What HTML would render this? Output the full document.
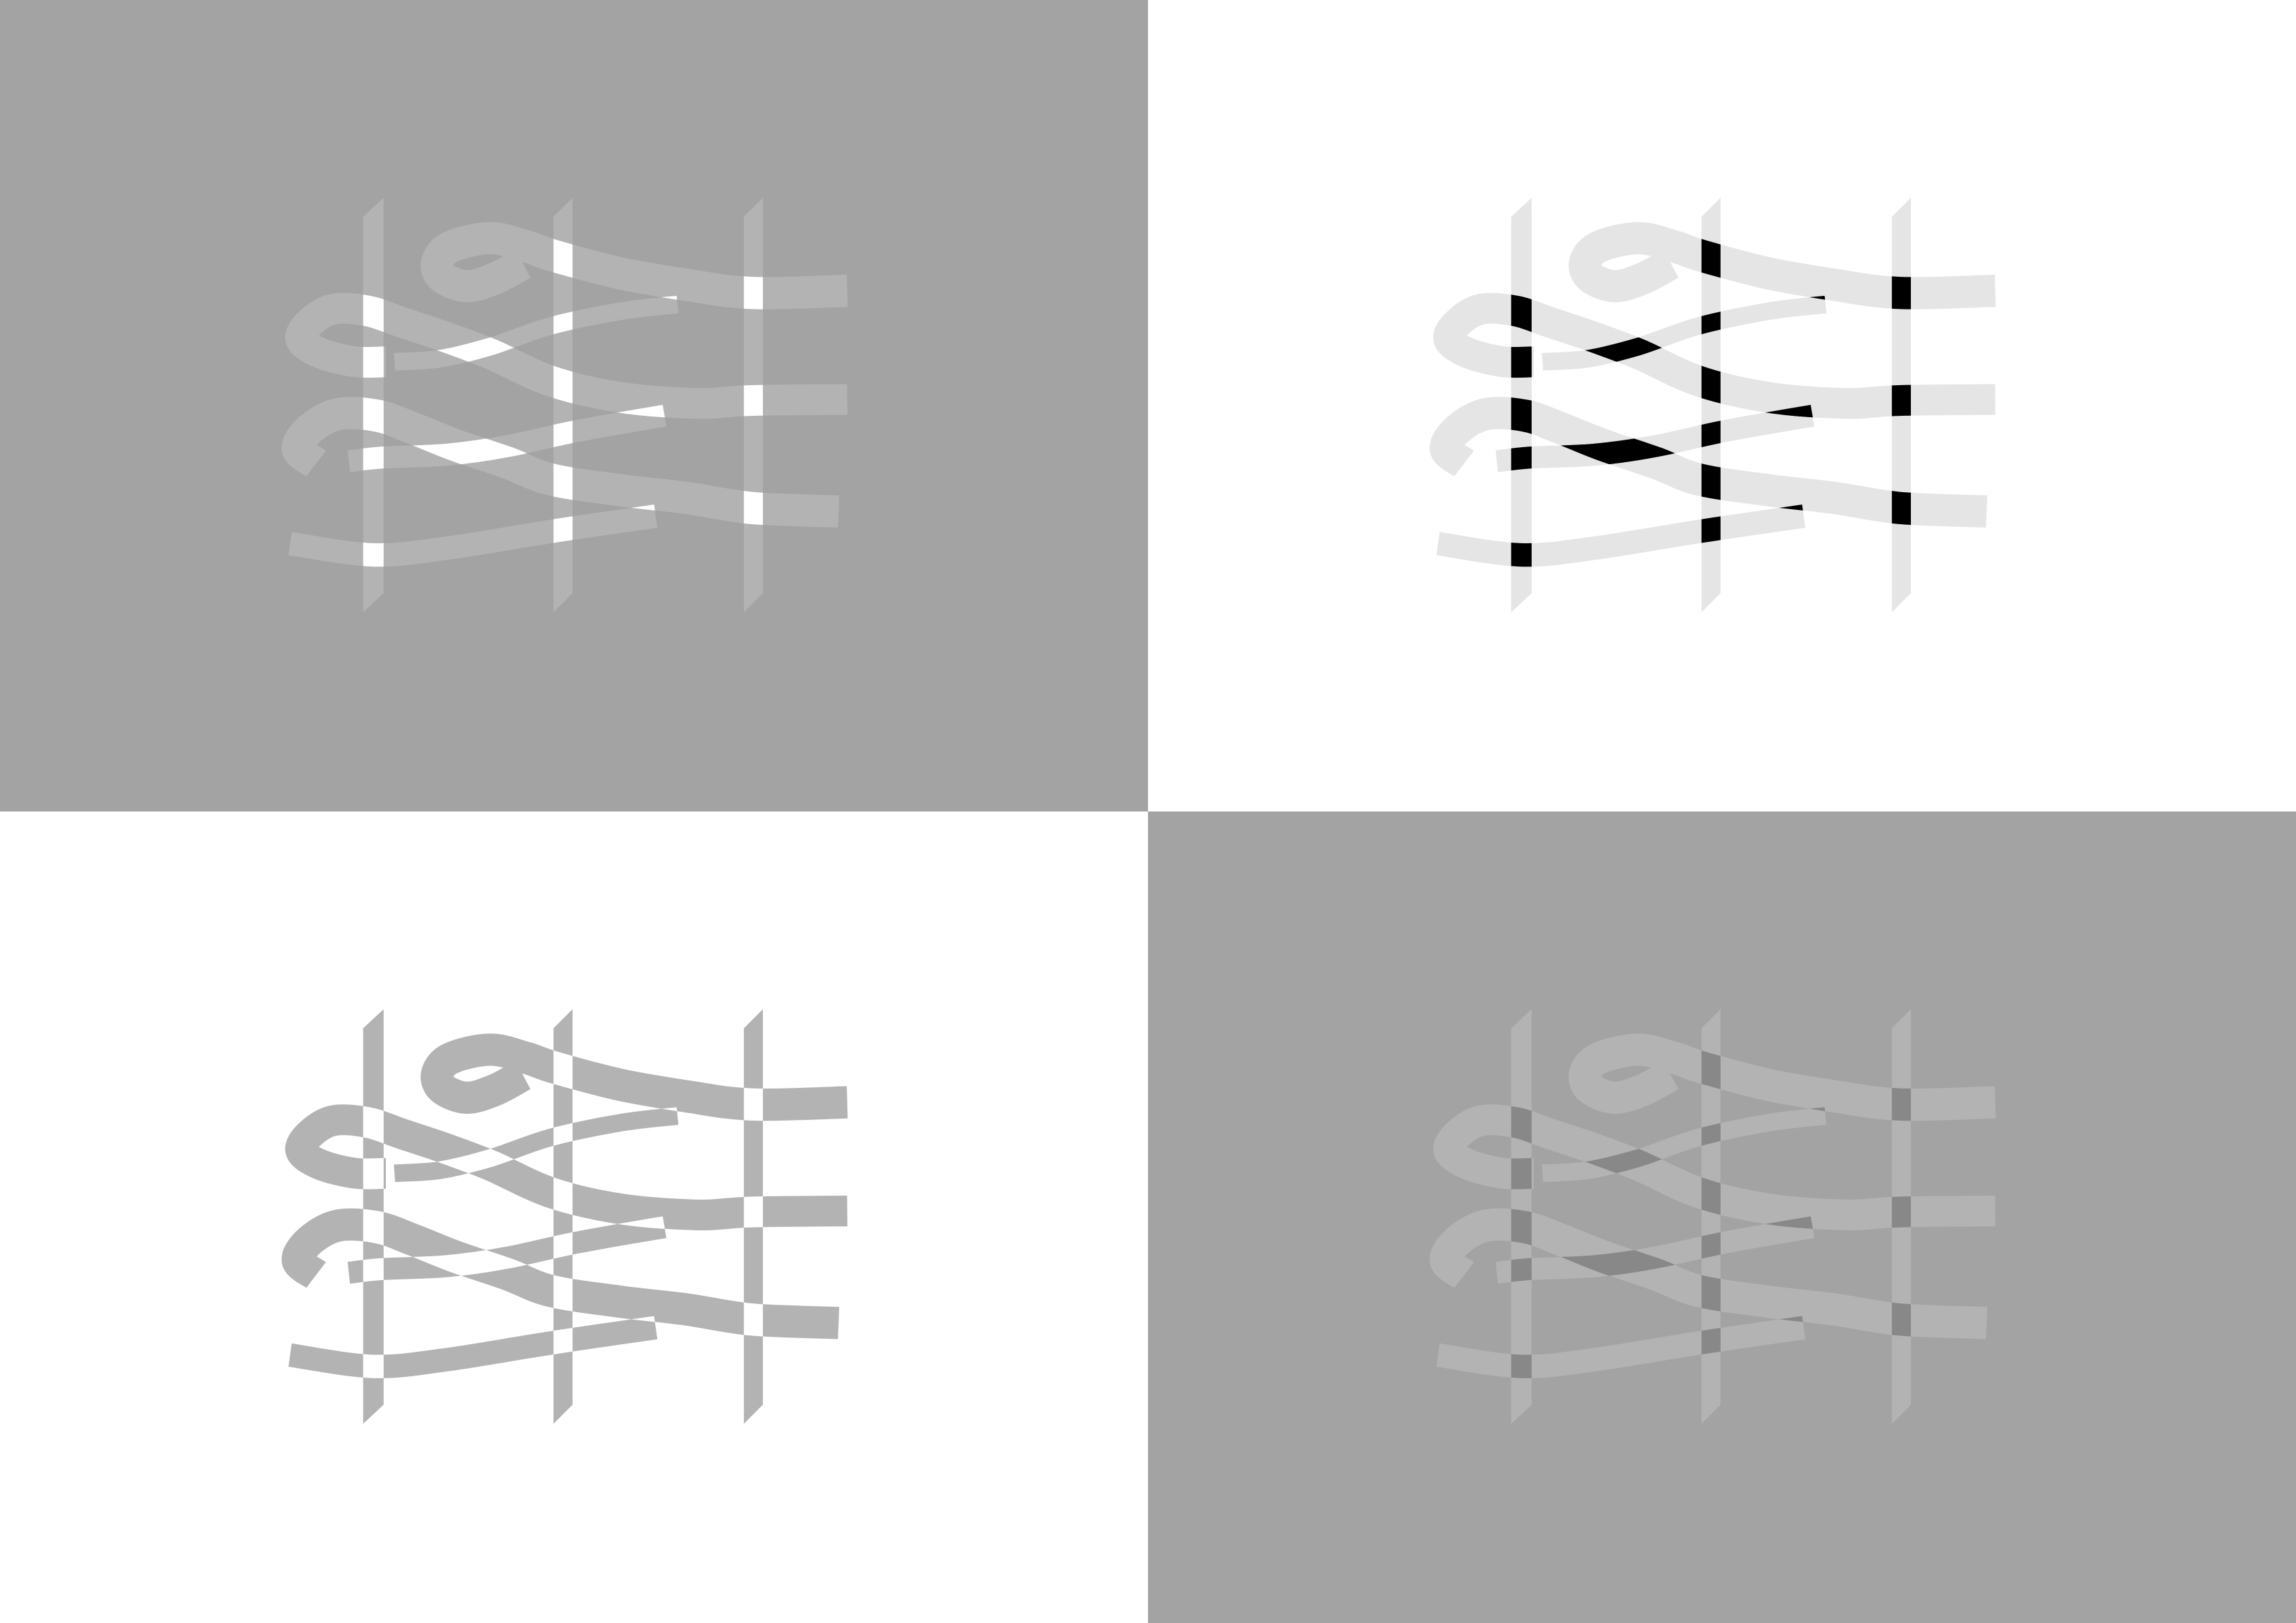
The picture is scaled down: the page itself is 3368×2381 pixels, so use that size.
<!DOCTYPE html>
<html><head><meta charset="utf-8">
<style>
html,body{margin:0;padding:0;background:#fff;}
svg{display:block;}
.bar{fill:var(--fg);}
.rib{fill:none;stroke:var(--fg);}
.ov{fill:none;stroke:var(--ov);}
.ovb{fill:var(--ov);}
</style></head>
<body>
<svg id="svg" width="3368" height="2381" viewBox="0 0 1568 1108" preserveAspectRatio="none" xmlns="http://www.w3.org/2000/svg">
<defs id="defs"><g id="art"></g></defs>
<rect x="0" y="0" width="784" height="554" fill="#a3a3a3"/>
<rect x="784" y="0" width="784" height="554" fill="#ffffff"/>
<rect x="0" y="554" width="784" height="554" fill="#ffffff"/>
<rect x="784" y="554" width="784" height="554" fill="#a3a3a3"/>
<use href="#art" style="--fg:#b3b3b3;--ov:#ffffff"/>
<use href="#art" transform="translate(784,0)" style="--fg:#e5e5e5;--ov:#000000"/>
<use href="#art" transform="translate(0,554)" style="--fg:#b3b3b3;--ov:#ffffff"/>
<use href="#art" transform="translate(784,554)" style="--fg:#b3b3b3;--ov:#888888"/>
</svg>
<script>
const NS="http://www.w3.org/2000/svg";
const bars=[
 "248,148 262,135 262,405 248,418",
 "378,148 391,135 391,405 378,418",
 "508,148 521,135 521,405 508,418"];
const strandWidths=[22,12,21,15,22,16];
const strandPts=[
 [[575,305],[510,355],[445,380],[390,350],[378,300],[410,250],[500,222],[580,248],[650,282],[800,338],[950,375],[1100,402],[1320,395]],
 [[280,628],[385,618],[500,578],[640,510],[800,462],[930,440]],
 [[260,628],[190,628],[110,600],[65,555],[85,500],[140,455],[220,462],[300,500],[400,548],[500,602],[640,692],[800,745],[975,765],[1100,755],[1320,752]],
 [[175,955],[250,943],[400,933],[540,905],[700,855],[900,805]],
 [[100,962],[58,915],[85,850],[150,800],[240,805],[320,845],[420,902],[540,960],[640,1015],[800,1050],[950,1075],[1100,1108],[1300,1120]],
 [[40,1225],[230,1262],[400,1240],[640,1185],[880,1135]]
];
function tx(p){return [186.2+0.2973*p[0],116.4+0.2079*p[1]];}
function pathD(pts){
 const P=pts.map(tx);
 let d="M"+P[0][0].toFixed(1)+","+P[0][1].toFixed(1);
 for(let i=0;i<P.length-1;i++){
  const p0=P[Math.max(0,i-1)],p1=P[i],p2=P[i+1],p3=P[Math.min(P.length-1,i+2)];
  const c1=[p1[0]+(p2[0]-p0[0])/6,p1[1]+(p2[1]-p0[1])/6];
  const c2=[p2[0]-(p3[0]-p1[0])/6,p2[1]-(p3[1]-p1[1])/6];
  d+=" C"+c1.map(v=>v.toFixed(1))+" "+c2.map(v=>v.toFixed(1))+" "+p2.map(v=>v.toFixed(1));
 }
 return d;
}
const defs=document.getElementById('defs');
const art=document.getElementById('art');
const D=strandPts.map(pathD);
// bars
bars.forEach((b,i)=>{
 const p=document.createElementNS(NS,'polygon');
 p.setAttribute('points',b);p.setAttribute('class','bar');
 
 
 art.appendChild(p);
});
// ribbons
D.forEach((d,i)=>{
 const p=document.createElementNS(NS,'path');
 p.setAttribute('d',d);p.setAttribute('class','rib');
 p.setAttribute('stroke-width',strandWidths[i]);
 
 
 art.appendChild(p);
});
// overlaps: each strand masked by bars + other strands
D.forEach((d,i)=>{
 const m=document.createElementNS(NS,'mask');
 m.setAttribute('id','m'+i);
 m.setAttribute('maskUnits','userSpaceOnUse');
 m.setAttribute('x','0');m.setAttribute('y','0');m.setAttribute('width','1568');m.setAttribute('height','1108');
 bars.forEach(b=>{const q=document.createElementNS(NS,'polygon');q.setAttribute('points',b);q.setAttribute('fill','#fff');m.appendChild(q);});
 D.forEach((d2,j)=>{ if(j===i)return;
  const q=document.createElementNS(NS,'path');q.setAttribute('d',d2);q.setAttribute('fill','none');
  q.setAttribute('stroke','#fff');q.setAttribute('stroke-width',strandWidths[j]);m.appendChild(q);});
 defs.appendChild(m);
 const p=document.createElementNS(NS,'path');
 p.setAttribute('d',d);p.setAttribute('class','ov');
 p.setAttribute('stroke-width',strandWidths[i]);
 p.setAttribute('mask','url(#m'+i+')');
 
 
 art.appendChild(p);
});
</script>
</body></html>
